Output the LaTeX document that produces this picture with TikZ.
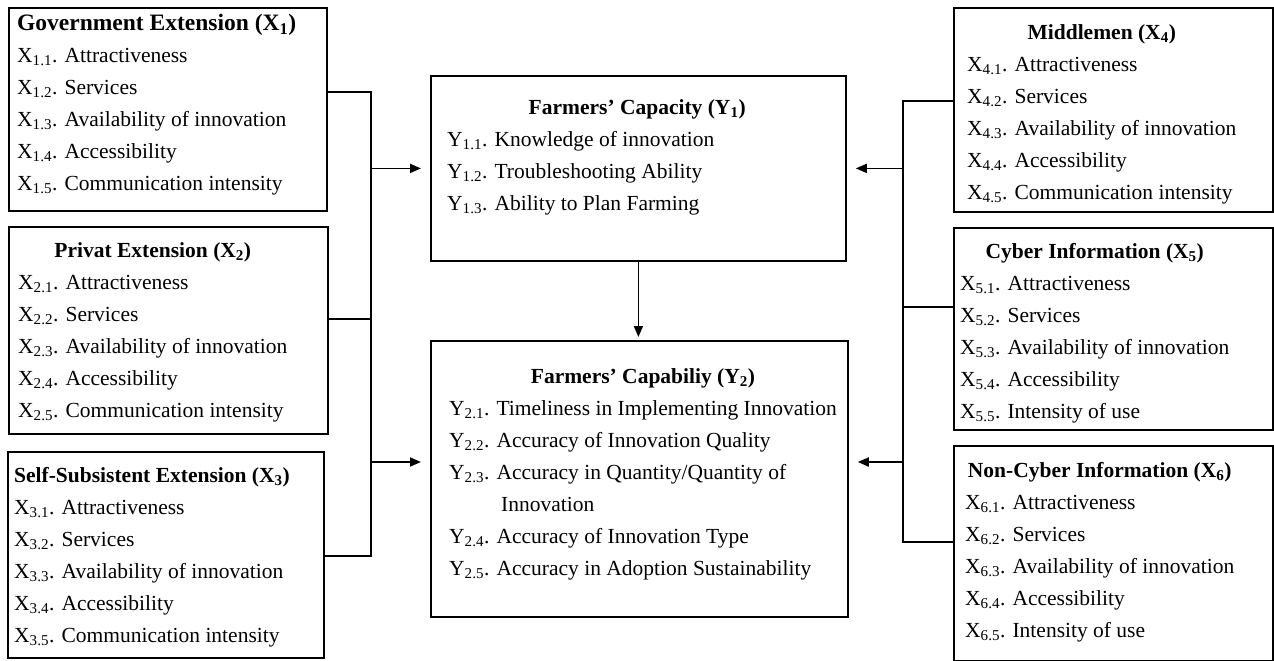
\documentclass[tikz,border=0pt]{standalone}
\usepackage{fontspec}
\setmainfont{Liberation Serif}
\usetikzlibrary{arrows.meta,positioning}

% title row centred over the item rows
\newcommand{\varlist}[2]{%
  \begin{tabular}{@{}l@{}}
    \multicolumn{1}{@{}c@{}}{\textbf{#1}}\\
    #2
  \end{tabular}}

\tikzset{
  varbox/.style={draw, line width=1.8pt, anchor=north west, inner sep=0pt},
  vartext/.style={anchor=north west, inner sep=0pt, font=\fontsize{21.5}{32}\selectfont},
  link/.style={line width=1.8pt},
  arrow/.style={link, -{Triangle[length=11pt,width=9pt]}, shorten >=9pt}
}

\begin{document}
\begin{tikzpicture}[x=1pt,y=-1pt]
  \useasboundingbox (0,0) rectangle (1274,661);

  % draw boxes
  % left
  \node[varbox, minimum width=318pt, minimum height=203pt] (gov)  at (8,7)   {};
  \node[varbox, minimum width=319pt, minimum height=207pt] (priv) at (8,226) {};
  \node[varbox, minimum width=316pt, minimum height=206pt] (self) at (7,451) {};
  % middle
  \node[varbox, minimum width=415pt, minimum height=185pt] (capacity)   at (430,75)  {};
  \node[varbox, minimum width=417pt, minimum height=276pt] (capability) at (430,340) {};
  % right
  \node[varbox, minimum width=319pt, minimum height=204pt] (middle)   at (953,7)   {};
  \node[varbox, minimum width=319pt, minimum height=202pt] (cyber)    at (953,227) {};
  \node[varbox, minimum width=319pt, minimum height=215pt] (noncyber) at (953,445) {};

  % box texts
  \node[vartext] (gov text) at ([xshift=9pt,yshift=-1pt]gov.north west) {\varlist{\fontsize{23.5}{32}\selectfont Government Extension (X\textsubscript{1})}{%
    X\textsubscript{1.1}. Attractiveness\\
    X\textsubscript{1.2}. Services\\
    X\textsubscript{1.3}. Availability of innovation\\
    X\textsubscript{1.4}. Accessibility\\
    X\textsubscript{1.5}. Communication intensity}};
  \node[vartext] (priv text) at ([xshift=10pt,yshift=-9pt]priv.north west) {\varlist{Privat Extension (X\textsubscript{2})}{%
    X\textsubscript{2.1}. Attractiveness\\
    X\textsubscript{2.2}. Services\\
    X\textsubscript{2.3}. Availability of innovation\\
    X\textsubscript{2.4}. Accessibility\\
    X\textsubscript{2.5}. Communication intensity}};
  \node[vartext] (self text) at ([xshift=7pt,yshift=-9pt]self.north west) {\varlist{Self-Subsistent Extension (X\textsubscript{3})}{%
    X\textsubscript{3.1}. Attractiveness\\
    X\textsubscript{3.2}. Services\\
    X\textsubscript{3.3}. Availability of innovation\\
    X\textsubscript{3.4}. Accessibility\\
    X\textsubscript{3.5}. Communication intensity}};
  \node[vartext] (capacity text) at ([xshift=17pt,yshift=-17pt]capacity.north west) {\varlist{\makebox[380pt]{Farmers’ Capacity (Y\textsubscript{1})}}{%
    Y\textsubscript{1.1}. Knowledge of innovation\\
    Y\textsubscript{1.2}. Troubleshooting Ability\\
    Y\textsubscript{1.3}. Ability to Plan Farming}};
  \node[vartext] (capability text) at ([xshift=19pt,yshift=-21pt]capability.north west) {\varlist{\makebox[376pt]{Farmers’ Capabiliy (Y\textsubscript{2})}}{%
    Y\textsubscript{2.1}. Timeliness in Implementing Innovation\\
    Y\textsubscript{2.2}. Accuracy of Innovation Quality\\
    Y\textsubscript{2.3}. Accuracy in Quantity/Quantity of\\
    \hspace{52pt}Innovation\\
    Y\textsubscript{2.4}. Accuracy of Innovation Type\\
    Y\textsubscript{2.5}. Accuracy in Adoption Sustainability}};
  \node[vartext] (middle text) at ([xshift=14pt,yshift=-10pt]middle.north west) {\varlist{Middlemen (X\textsubscript{4})}{%
    X\textsubscript{4.1}. Attractiveness\\
    X\textsubscript{4.2}. Services\\
    X\textsubscript{4.3}. Availability of innovation\\
    X\textsubscript{4.4}. Accessibility\\
    X\textsubscript{4.5}. Communication intensity}};
  \node[vartext] (cyber text) at ([xshift=7pt,yshift=-9pt]cyber.north west) {\varlist{Cyber Information (X\textsubscript{5})}{%
    X\textsubscript{5.1}. Attractiveness\\
    X\textsubscript{5.2}. Services\\
    X\textsubscript{5.3}. Availability of innovation\\
    X\textsubscript{5.4}. Accessibility\\
    X\textsubscript{5.5}. Intensity of use}};
  \node[vartext] (noncyber text) at ([xshift=12pt,yshift=-10pt]noncyber.north west) {\varlist{Non-Cyber Information (X\textsubscript{6})}{%
    X\textsubscript{6.1}. Attractiveness\\
    X\textsubscript{6.2}. Services\\
    X\textsubscript{6.3}. Availability of innovation\\
    X\textsubscript{6.4}. Accessibility\\
    X\textsubscript{6.5}. Intensity of use}};

  % draw connectors
  % left bus
  \coordinate (ljoin1) at (371,92);
  \coordinate (ljoin2) at (371,319);
  \coordinate (ljoin3) at (371,556);
  \coordinate (ljoin4) at (371,462);
  \draw[link] (ljoin1 -| gov.east) -- (ljoin1) -- (ljoin3) -- (ljoin3 -| self.east);
  \draw[link] (ljoin2 -| priv.east) -- (ljoin2);
  \draw[arrow] (capacity.west -| ljoin1) -- (capacity.west);
  \draw[arrow] (ljoin4) -- (ljoin4 -| capability.west);
  % right bus
  \coordinate (rjoin1) at (903,101);
  \coordinate (rjoin2) at (903,307);
  \coordinate (rjoin3) at (903,542);
  \coordinate (rjoin4) at (903,462);
  \draw[link] (rjoin1 -| middle.west) -- (rjoin1) -- (rjoin3) -- (rjoin3 -| noncyber.west);
  \draw[link] (rjoin2 -| cyber.west) -- (rjoin2);
  \draw[arrow] (capacity.east -| rjoin1) -- (capacity.east);
  \draw[arrow] (rjoin4) -- (rjoin4 -| capability.east);
  % capacity to capability
  \draw[arrow, shorten >=3pt] (capacity.south) -- (capacity.south |- capability.north);
\end{tikzpicture}
\end{document}
